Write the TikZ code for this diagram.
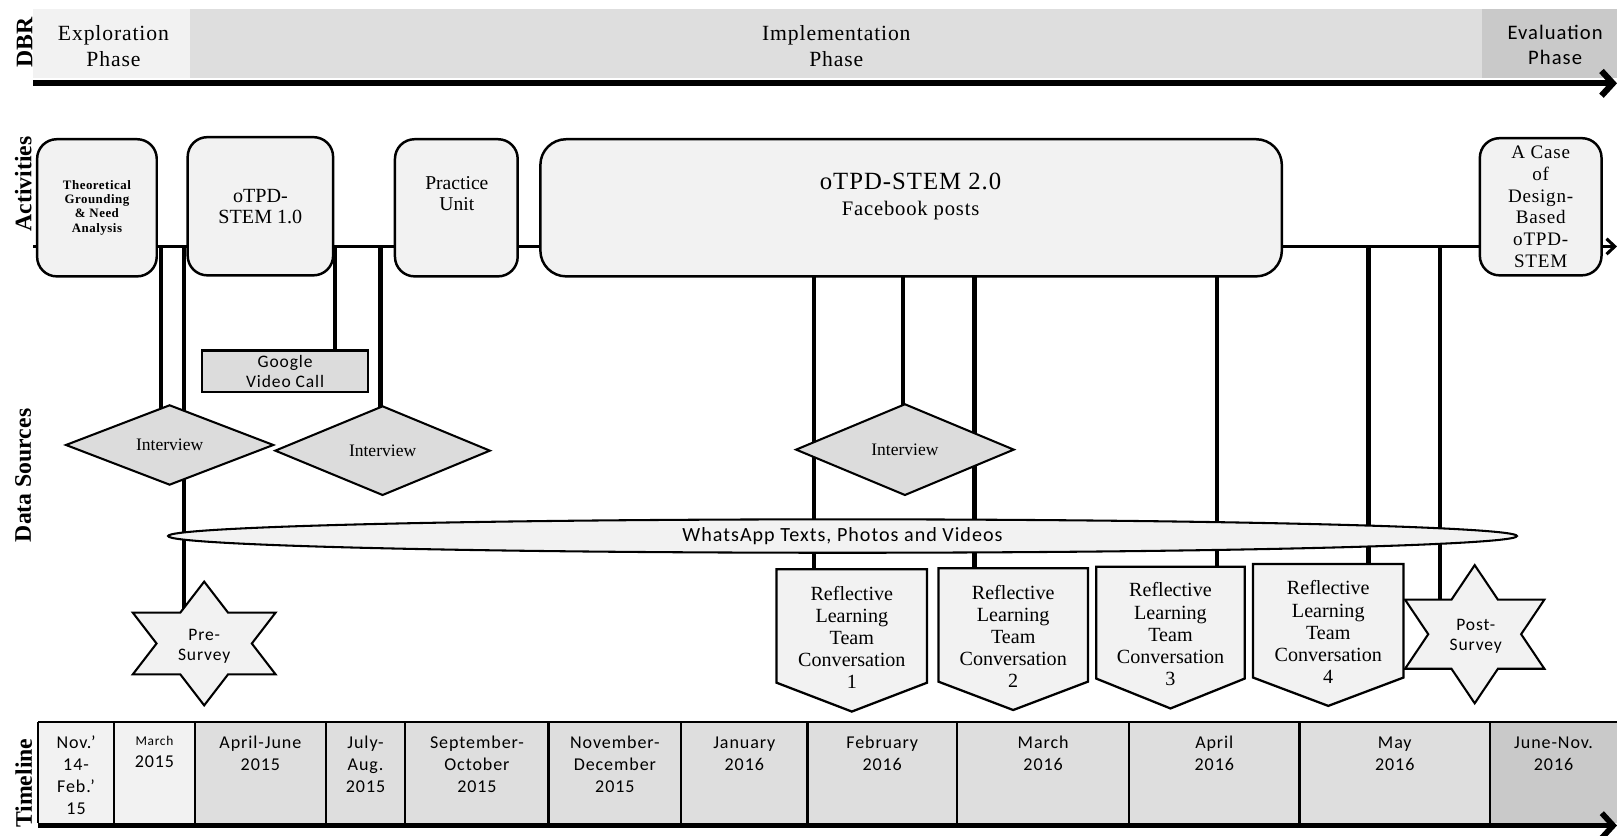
\documentclass[tikz,border=0pt]{standalone}
\usepackage{fontspec}
\setmainfont{Liberation Serif}
\newfontfamily\rmsp{Liberation Serif}[LetterSpace=4]
\newfontfamily\sfsp{Carlito}[LetterSpace=5]
\usetikzlibrary{shapes.geometric,arrows.meta,calc}
\pgfdeclarelayer{wires}
\pgfdeclarelayer{shapes}
\pgfsetlayers{wires,shapes,main}
\definecolor{paleg}{HTML}{F2F2F2}
\definecolor{midg}{HTML}{DEDEDE}
\definecolor{darkg}{HTML}{C9C9C9}
\definecolor{srcg}{HTML}{DCDCDC}
\newcommand\fsz[2]{\fontsize{#1}{#2}\selectfont}
% six-pointed survey star: centre x, centre y, x radius, y radius
\newcommand\surveystar[4]{%
  \draw[surveyfill] ({#1},{#2-#4})
    -- ({#1-0.288675*#3},{#2-0.5*#4}) -- ({#1-0.866025*#3},{#2-0.5*#4})
    -- ({#1-0.57735*#3},{#2})         -- ({#1-0.866025*#3},{#2+0.5*#4})
    -- ({#1-0.288675*#3},{#2+0.5*#4}) -- ({#1},{#2+#4})
    -- ({#1+0.288675*#3},{#2+0.5*#4}) -- ({#1+0.866025*#3},{#2+0.5*#4})
    -- ({#1+0.57735*#3},{#2})         -- ({#1+0.866025*#3},{#2-0.5*#4})
    -- ({#1+0.288675*#3},{#2-0.5*#4}) -- cycle;}
% off-page pentagon: left, right, top, shoulder, point
\newcommand\rltshape[5]{%
  \draw[rltfill] ({#1},{#3}) -- ({#2},{#3}) -- ({#2},{#4})
    -- ({(#1+#2)/2},{#5}) -- ({#1},{#4}) -- cycle;}
\begin{document}
\begin{tikzpicture}[x=1pt,y=-1pt,
  every node/.style={inner sep=0pt, outer sep=0pt},
  sidelabel/.style={rotate=90, font=\bfseries\fsz{23}{23}},
  phaseband/.style={anchor=north west, minimum height=67pt},
  phasetext/.style={align=center, font=\rmsp\fsz{21}{25}},
  actbox/.style={draw, line width=2.4pt, fill=paleg, rounded corners=19pt,
    anchor=north west, align=center},
  srcdiamond/.style={diamond, aspect=2.5, draw, line width=2pt, fill=srcg,
    font=\fsz{17}{20}},
  gvcbox/.style={draw, line width=2.2pt, fill=srcg, align=center,
    font=\sfsp\fsz{17}{19.5}},
  waellipse/.style={ellipse, draw, line width=2pt, fill=paleg,
    font=\sfsp\fsz{19.5}{22}},
  rltfill/.style={draw, line width=2.2pt, fill=paleg, line join=miter},
  rlttext/.style={align=center, font=\fsz{19.5}{21.5}},
  surveyfill/.style={draw, line width=2pt, fill=paleg, line join=miter},
  surveytext/.style={align=center, font=\sfsp\fsz{17}{19.5}},
  cell/.style={anchor=north west, minimum height=98pt},
  celltext/.style={anchor=north, align=center, font=\sfsp\fsz{17.5}{21.3}},
  gridline/.style={line width=2.2pt},
  drop/.style={line width=4pt},
  actline/.style={line width=3pt, -{Straight Barb[length=8pt,width=15pt]}},
  axisarrow/.style={line width=6pt, -{Straight Barb[length=11pt,width=24pt]}}
]
\useasboundingbox (0,0) rectangle (1568,810);

% row labels
\node[sidelabel] (dbrlabel) at (24,41) {DBR};
\node[sidelabel] (actlabel) at (22.5,178.5) {Activities};
\node[sidelabel] (srclabel) at (22.5,461) {Data Sources};
\node[sidelabel] (timelabel) at (23,759.5) {Timeline};

% DBR phases
\node[phaseband, fill=paleg, minimum width=152pt] (ph1) at (32.4,9) {};
\node[phaseband, fill=midg, minimum width=1252.6pt] (ph2) at (184.4,9) {};
\node[phaseband, fill=darkg, minimum width=131pt] (ph3) at (1437,9) {};
\node[phasetext] (ph1t) at (110,45) {Exploration\\Phase};
\node[phasetext] (ph2t) at (811,45) {Implementation\\Phase};
\node[phasetext, font=\sfsp\fsz{20}{24.5}] (ph3t) at (1508,43.5) {Evaluation\\Phase};
\coordinate (dbrL) at (32.4,80.8);
\coordinate (dbrR) at (1568,80.8);
\draw[axisarrow] (dbrL) -- (dbrR);

% activities
\node[actbox, minimum width=116pt, minimum height=133pt,
  font=\rmsp\bfseries\fsz{12.5}{13.8}] (tgna) at (36,135)
  {Theoretical\\Grounding\\\& Need\\Analysis};
\node[actbox, minimum width=141pt, minimum height=134pt, font=\fsz{19.5}{20.5}]
  (stem1) at (182,133) {oTPD-\\STEM 1.0};
\node[actbox, minimum width=119pt, minimum height=133pt] (practice) at (383,135) {};
\node[align=center, font=\fsz{19}{20}] (practicet) at (443,188) {Practice\\Unit};
\node[actbox, minimum width=719pt, minimum height=133pt, rounded corners=25pt]
  (stem2) at (524,135) {};
\node[font=\rmsp\fsz{24}{28}] (stem2t) at (883,176) {oTPD-STEM 2.0};
\node[font=\rmsp\fsz{20}{24}] (stem2s) at (883,204) {Facebook posts};
\node[actbox, minimum width=118pt, minimum height=133pt, font=\rmsp\fsz{18.5}{21.2}]
  (dbcase) at (1435,134) {A Case\\of\\Design-\\Based\\oTPD-\\STEM};
\coordinate (actL) at (32.4,239);
\coordinate (actR) at (1568,239);
\foreach \n/\x in {d1/156, d2/178, d3/325, d4/369, d5/789, d6/876,
                   d7/945, d8/1180, d9/1327, d10/1396}
  \coordinate (\n) at (\x,239);

% data sources
\node[gvcbox, minimum width=161pt, minimum height=40pt] (gvc) at (276.5,360)
  {Google\\Video Call};
\node[srcdiamond, minimum width=201pt, minimum height=77pt] (int1) at (164.5,431.5) {Interview};
\node[srcdiamond, minimum width=208pt, minimum height=86pt] (int2) at (371,437) {Interview};
\node[srcdiamond, minimum width=211pt, minimum height=88pt] (int3) at (877.5,436) {Interview};
\node[waellipse, minimum width=1308pt, minimum height=32.4pt] (wa) at (817,519.8)
  {WhatsApp Texts, Photos and Videos};

\begin{pgfonlayer}{shapes}
  \rltshape{753}{899}{552}{662}{690}
  \rltshape{910}{1055}{551}{661}{688.5}
  \rltshape{1063}{1207}{549.5}{658}{687}
  \rltshape{1215}{1361}{547}{657}{684.5}
  \surveystar{198}{624}{80}{60}
  \surveystar{1430}{615}{78}{67}
\end{pgfonlayer}
\node[rlttext] (rlt1) at (826,618) {Reflective\\Learning\\Team\\Conversation\\1};
\node[rlttext] (rlt2) at (982.5,617) {Reflective\\Learning\\Team\\Conversation\\2};
\node[rlttext] (rlt3) at (1135,615) {Reflective\\Learning\\Team\\Conversation\\3};
\node[rlttext] (rlt4) at (1288,613) {Reflective\\Learning\\Team\\Conversation\\4};
\node[surveytext] (pre) at (198,627) {Pre-\\Survey};
\node[surveytext] (post) at (1431,617) {Post-\\Survey};

% connectors from the activity line
\begin{pgfonlayer}{wires}
  \draw[actline] (actL) -- (actR);
  \foreach \d/\t in {d1/int1, d2/pre, d4/int2, d5/rlt1, d6/int3,
                     d7/rlt2, d8/rlt3, d9/rlt4, d10/post}
    \draw[drop] (\d) -- (\d |- \t.center);
  \draw[drop] (d3) -- (d3 |- gvc.north);
\end{pgfonlayer}

% timeline
\foreach \n/\a/\b/\c in {t1/37/110.5/paleg, t2/110.5/189/paleg, t3/189/316/midg,
    t4/316/393/midg, t5/393/532/midg, t6/532/660.5/midg, t7/660.5/783/midg,
    t8/783/928/midg, t9/928/1095/midg, t10/1095/1260/midg, t11/1260/1445/midg,
    t12/1445/1568/darkg}
  \node[cell, fill=\c, minimum width={\b-\a}] (\n) at (\a,700) {};
\draw[gridline] (t1.north west) -- (t12.north east);
\foreach \n in {t1,t2,t3,t4,t5,t6,t7,t8,t9,t10,t11,t12}
  \draw[gridline] (\n.north west) -- (\n.south west);
\node[celltext] (x1) at ($(t1.north)+(0,10.7)$) {\strut Nov.’\\14-\\Feb.’\\15};
\node[celltext] (x2) at ($(t2.north)+(0,12)$) {{\fsz{13}{16}\strut March}\\2015};
\node[celltext] (x3) at ($(t3.north)+(0,10.7)$) {\strut April-June\\2015};
\node[celltext] (x4) at ($(t4.north)+(0,10.7)$) {\strut July-\\Aug.\\2015};
\node[celltext] (x5) at ($(t5.north)+(0,10.7)$) {\strut September-\\October\\2015};
\node[celltext] (x6) at ($(t6.north)+(0,10.7)$) {\strut November-\\December\\2015};
\node[celltext] (x7) at ($(t7.north)+(0,10.7)$) {\strut January\\2016};
\node[celltext] (x8) at ($(t8.north)+(0,10.7)$) {\strut February\\2016};
\node[celltext] (x9) at ($(t9.north)+(0,10.7)$) {\strut March\\2016};
\node[celltext] (x10) at ($(t10.north)+(0,10.7)$) {\strut April\\2016};
\node[celltext] (x11) at ($(t11.north)+(0,10.7)$) {\strut May\\2016};
\node[celltext] (x12) at ($(t12.north)+(0,10.7)$) {\strut June-Nov.\\2016};
\coordinate (tlL) at (37,800.5);
\coordinate (tlR) at (1568,800.5);
\draw[axisarrow, line width=5.5pt] (tlL) -- (tlR);
\end{tikzpicture}
\end{document}
